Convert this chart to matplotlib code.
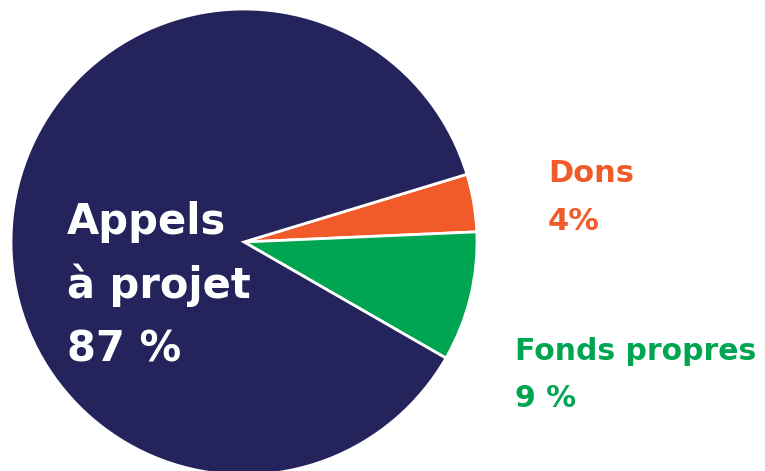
import matplotlib
matplotlib.use("Agg")
from matplotlib import pyplot as plt

# funding breakdown (percent)
labels = ["Dons", "Fonds propres", "Appels à projet"]
shares = [4, 9, 87]
pct_labels = ["4%", "9 %", "87 %"]

NAVY = "#25235b"
ORANGE = "#f15a29"
GREEN = "#00a551"
colors = [ORANGE, GREEN, NAVY]

W, H = 765, 471
fig = plt.figure(figsize=(W / 100, H / 100), dpi=100)

# pie centred at (244, 242) px with radius ~233 px
cx, cy, r = 244, 242, 233
ax = fig.add_axes([(cx - r) / W, (H - cy - r) / H, 2 * r / W, 2 * r / H])
ax.pie(shares, colors=colors, startangle=16.9, counterclock=False,
       wedgeprops=dict(edgecolor="white", linewidth=2))
ax.set_xlim(-1, 1)
ax.set_ylim(-1, 1)
ax.set_aspect("equal")
ax.axis("off")

font = dict(family="DejaVu Sans", weight="bold")


def put(x, y, s, color, size):
    fig.text(x / W, 1 - y / H, s, color=color, fontsize=size, va="baseline", ha="left", **font)


# slice labels
put(548, 182, labels[0], ORANGE, 22)
put(548, 230, pct_labels[0], ORANGE, 22)
put(515, 360, labels[1], GREEN, 21.5)
put(515, 407, pct_labels[1], GREEN, 21.5)
put(67, 234, "Appels", "white", 30)
put(67, 298, "à projet", "white", 30)
put(67, 362, pct_labels[2], "white", 30)

fig.savefig("out.png", dpi=100)
